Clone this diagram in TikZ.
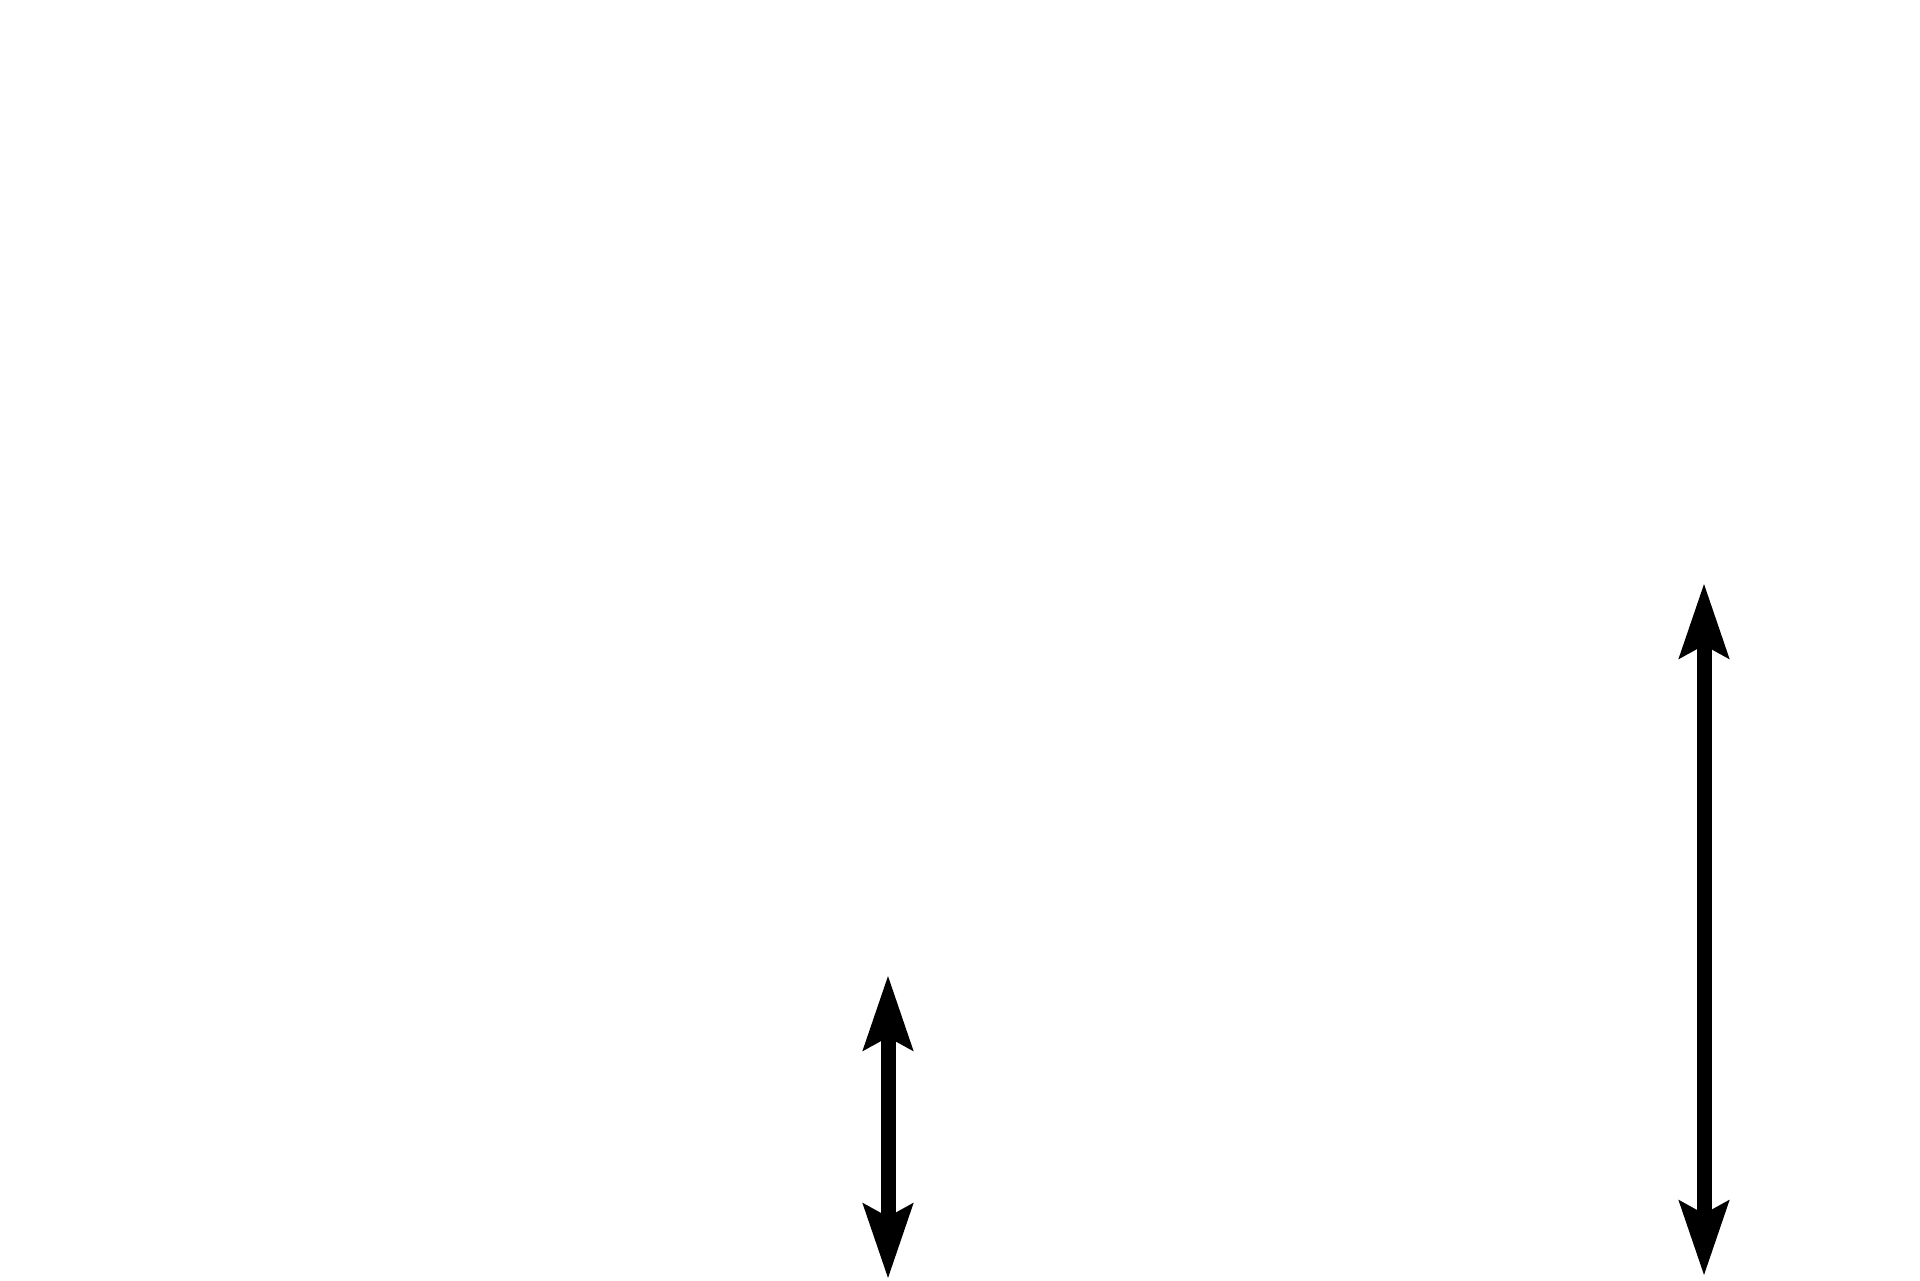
\documentclass[tikz,border=0pt]{standalone}
\usetikzlibrary{arrows.meta}
\begin{document}
\begin{tikzpicture}[x=0.5pt,y=-0.5pt,
  dbl/.style={line width=7.5pt, {Stealth[length=37pt,width=24pt,inset=6pt]}-{Stealth[length=37pt,width=24pt,inset=6pt]}}]
\useasboundingbox (0,0) rectangle (1920,1280);
\coordinate (a1) at (888,975);
\coordinate (a2) at (888,1279);
\coordinate (b1) at (1704,583);
\coordinate (b2) at (1704,1276);
\draw[dbl] (a1) -- (a2);
\draw[dbl] (b1) -- (b2);
\end{tikzpicture}
\end{document}
